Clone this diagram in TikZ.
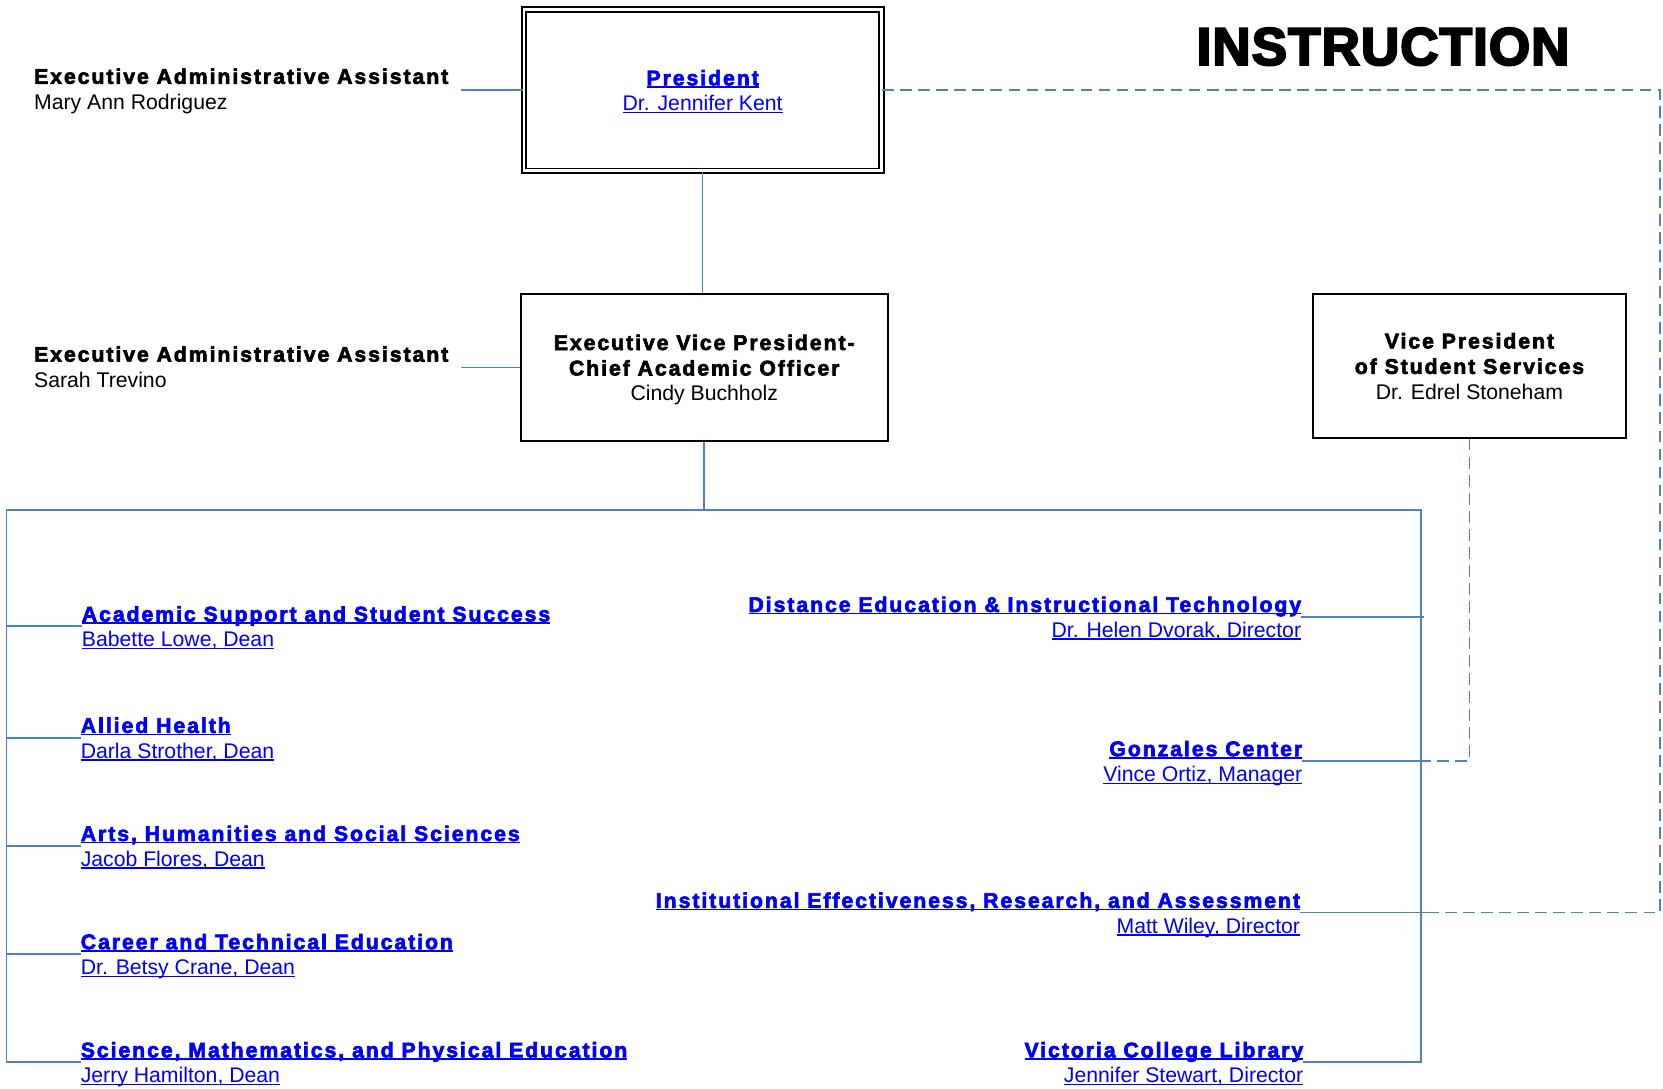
\documentclass[tikz,border=0pt]{standalone}
\usepackage{fontspec}
\setmainfont{Liberation Sans}
\newfontfamily\boldsp{Liberation Sans Bold}[LetterSpace=9.2,FakeBold=3]
\newfontfamily\titlefont{Liberation Sans Bold}[LetterSpace=2,FakeBold=4]
\definecolor{linkblue}{RGB}{0,0,245}
\definecolor{lineblue}{RGB}{79,129,189}
\newcommand\normtxt{\fontsize{20}{24}\selectfont}
\newcommand\Strut{\rule[-4.5pt]{0pt}{24pt}}
\newcommand\tb[1]{{\boldsp #1}}
\newcommand\ulin[1]{\setbox0=\hbox{#1}\rlap{\rule[-2.2pt]{\wd0}{1.3pt}}\box0}
\newcommand\lk[1]{\textcolor{linkblue}{\ulin{#1}}}
\begin{document}
\begin{tikzpicture}[x=1pt,y=-1pt,
  conn/.style={draw=lineblue, line width=1.6pt},
  dconn/.style={conn, dash pattern=on 11pt off 6pt},
  box/.style={draw=black, line width=1.5pt, align=center, inner sep=0pt, font=\normtxt},
  pbox/.style={box, line width=1.8pt, double, double distance=2.5pt},
  lbl/.style={align=left, inner sep=0pt, anchor=west, font=\normtxt},
  rlbl/.style={align=right, inner sep=0pt, anchor=east, font=\normtxt},
  ttl/.style={inner sep=0pt, font={\fontsize{50}{60}\selectfont\titlefont}}
]
\useasboundingbox (0,0) rectangle (1568,1026);

% title
\node[ttl] (title) at (1304,44) {INSTRUCTION};

% top boxes
\node[pbox, minimum width=337pt, minimum height=152pt] (pres) at (662.5,85)
  {\lk{\tb{President}}\Strut\\\lk{Dr. Jennifer Kent}\Strut};
\node[box, minimum width=346pt, minimum height=139pt] (evp) at (664,346.5)
  {\tb{Executive Vice President-}\Strut\\\tb{Chief Academic Officer}\Strut\\Cindy Buchholz\Strut};
\node[box, minimum width=295pt, minimum height=136pt] (vp) at (1385.5,345)
  {\tb{Vice President}\Strut\\\tb{of Student Services}\Strut\\Dr. Edrel Stoneham\Strut};

% assistants
\node[lbl] (eaa1) at (32,83.5) {\tb{Executive Administrative Assistant}\Strut\\Mary Ann Rodriguez\Strut};
\node[lbl] (eaa2) at (32,345.5) {\tb{Executive Administrative Assistant}\Strut\\Sarah Trevino\Strut};

% left units
\node[lbl] (acad) at (77,590.5) {\lk{\tb{Academic Support and Student Success}}\Strut\\\lk{Babette Lowe, Dean}\Strut};
\node[lbl] (allied) at (76,695.5) {\lk{\tb{Allied Health}}\Strut\\\lk{Darla Strother, Dean}\Strut};
\node[lbl] (arts) at (76,797.5) {\lk{\tb{Arts, Humanities and Social Sciences}}\Strut\\\lk{Jacob Flores, Dean}\Strut};
\node[lbl] (career) at (76,899.5) {\lk{\tb{Career and Technical Education}}\Strut\\\lk{Dr. Betsy Crane, Dean}\Strut};
\node[lbl] (sci) at (76,1001.5) {\lk{\tb{Science, Mathematics, and Physical Education}}\Strut\\\lk{Jerry Hamilton, Dean}\Strut};

% right units
\node[rlbl] (dist) at (1227,581.5) {\lk{\tb{Distance Education \& Instructional Technology}}\Strut\\\lk{Dr. Helen Dvorak, Director}\Strut};
\node[rlbl] (gon) at (1228,717.5) {\lk{\tb{Gonzales Center}}\Strut\\\lk{Vince Ortiz, Manager}\Strut};
\node[rlbl] (inst) at (1226,860.5) {\lk{\tb{Institutional Effectiveness, Research, and Assessment}}\Strut\\\lk{Matt Wiley, Director}\Strut};
\node[rlbl] (vic) at (1229,1001.5) {\lk{\tb{Victoria College Library}}\Strut\\\lk{Jennifer Stewart, Director}\Strut};

% frame coordinates
\coordinate (ftl) at (6,481);
\coordinate (ftr) at (1340,481);
\coordinate (rcol) at (1565,85);

% connectors
\draw[conn, shorten >=12pt] (pres.west) -- (pres.west -| eaa1.east);
\draw[conn, shorten >=12pt] (evp.west) -- (evp.west -| eaa2.east);
\draw[conn] (pres.south) -- (pres.south |- evp.north);
\draw[conn] (evp.south) -- (evp.south |- ftl);
\draw[conn] (sci.west) -| (ftl) -- (ftr) |- (vic.east);
\draw[conn] (acad.west) -- (acad.west -| ftl);
\draw[conn] (allied.west) -- (allied.west -| ftl);
\draw[conn] (arts.west) -- (arts.west -| ftl);
\draw[conn] (career.west) -- (career.west -| ftl);
\draw[conn, shorten >=-3pt] (dist.east) -- (dist.east -| ftr);
\draw[conn, shorten >=-3pt] (gon.east) -- (gon.east -| ftr);
\draw[conn, shorten >=-5pt] (inst.east) -- (inst.east -| ftr);
\draw[dconn] (vp.south) |- (gon.east -| ftr);
\draw[dconn] (pres.east) -- (pres.east -| rcol) |- (inst.east -| ftr);
\end{tikzpicture}
\end{document}
